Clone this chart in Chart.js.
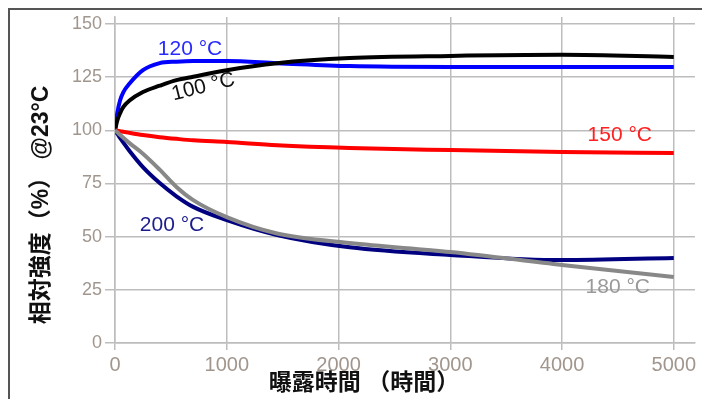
<!DOCTYPE html>
<html>
<head>
<meta charset="utf-8">
<script src="https://cdn.jsdelivr.net/npm/chart.js@4"></script>
<style>
  html, body { margin: 0; padding: 0; background: #fff; }
  #wrap { position: relative; width: 702px; height: 399px; overflow: hidden; }
  #frame {
    position: absolute; left: 8px; top: 8px; right: -4px; bottom: -4px;
    border-left: 2px solid #555; border-top: 2px solid #555;
  }
  #chart { position: absolute; left: 0; top: 0; }
</style>
</head>
<body>
<div id="wrap">
  <div id="frame"></div>
  <canvas id="chart" width="702" height="399"></canvas>
</div>
<script>
// exposure hours
const hours = [0, 20, 45, 75, 130, 250, 400, 550, 700, 1000, 1450, 2100, 3000, 4000, 5000];

// relative strength (%) per temperature
const temp120 = [100, 108, 114, 118, 122, 128.3, 131.6, 132.3, 132.6, 132.6, 131.6, 130.2, 129.8, 129.8, 129.8];
const temp100 = [100, 104.5, 108, 111, 114, 118, 121, 123.6, 125.2, 128.3, 131.6, 134, 135, 135.5, 134.5];
const temp150 = [100, 99.8, 99.6, 99.3, 98.8, 97.8, 96.8, 96, 95.3, 94.5, 93, 91.7, 90.7, 89.8, 89.3];
const temp200 = [100, 98.4, 96.5, 94.2, 90.3, 82.7, 75.2, 69, 64, 57.8, 50.8, 45, 41.4, 39, 40];
const temp180 = [100, 99.1, 97.9, 96.5, 94, 89, 81.5, 73.4, 67.2, 59.2, 51.5, 47, 42.8, 36.7, 31];

const xTicks = [0, 1000, 2000, 3000, 4000, 5000];
const yTicks = [0, 25, 50, 75, 100, 125, 150];

// series labels: text, anchor (hours, %), colour, angle
const seriesLabels = [
  { text: '120 °C', x: 671, y: 138.2, color: '#2a2aff', angle: 0 },
  { text: '100 °C', x: 790, y: 120.4, color: '#111', angle: -14 },
  { text: '150 °C', x: 4517, y: 97.8, color: '#ff2020', angle: 0 },
  { text: '200 °C', x: 510, y: 55.5, color: '#1c1c8c', angle: 0 },
  { text: '180 °C', x: 4499, y: 26.3, color: '#999', angle: 0 }
];

const yTitle = '相対強度（%） @23°C';
const xTitle = '曝露時間 （時間）';

function toPoints(values) {
  return values.map((v, i) => ({ x: hours[i], y: v }));
}

function lineSet(label, values, color) {
  return {
    label: label,
    data: toPoints(values),
    borderColor: color,
    borderWidth: 4,
    pointRadius: 0,
    cubicInterpolationMode: 'monotone',
    fill: false
  };
}

const labelPlugin = {
  id: 'labelPlugin',
  afterDraw(chart) {
    const ctx = chart.ctx;
    const xs = chart.scales.x;
    const ys = chart.scales.y;
    ctx.save();
    ctx.font = '21px "Liberation Sans", Arial, sans-serif';
    ctx.textAlign = 'center';
    ctx.textBaseline = 'middle';
    seriesLabels.forEach(l => {
      ctx.save();
      ctx.translate(xs.getPixelForValue(l.x), ys.getPixelForValue(l.y));
      ctx.rotate(l.angle * Math.PI / 180);
      ctx.fillStyle = l.color;
      ctx.fillText(l.text, 0, 0);
      ctx.restore();
    });

    // axis titles
    ctx.fillStyle = '#111';
    ctx.font = 'bold 23px "Liberation Sans", "Noto Sans CJK JP", sans-serif';
    ctx.fillText(xTitle, 364, 384);

    ctx.save();
    ctx.translate(42, 205);
    ctx.rotate(-Math.PI / 2);
    ctx.font = 'bold 23px "Liberation Sans", "Noto Sans CJK JP", sans-serif';
    ctx.fillText(yTitle, 0, 0);
    ctx.restore();
    ctx.restore();
  }
};

const ctx = document.getElementById('chart').getContext('2d');

new Chart(ctx, {
  type: 'line',
  data: {
    datasets: [
      lineSet('180 °C', temp180, '#888888'),
      lineSet('200 °C', temp200, '#000080'),
      lineSet('150 °C', temp150, '#ff0000'),
      lineSet('100 °C', temp100, '#000000'),
      lineSet('120 °C', temp120, '#0000ff')
    ]
  },
  options: {
    responsive: false,
    animation: false,
    layout: {
      padding: { left: 0, top: 17, right: 7, bottom: 0 }
    },
    plugins: {
      legend: { display: false },
      tooltip: { enabled: false }
    },
    scales: {
      x: {
        type: 'linear',
        min: 0,
        max: 5190,
        afterFit: function (scale) { scale.height = 56; },
        afterBuildTicks: function (scale) {
          scale.ticks = xTicks.map(v => ({ value: v }));
        },
        ticks: {
          color: '#a0968e',
          font: { family: '"Liberation Sans", Arial, sans-serif', size: 20 },
          padding: 3,
          maxRotation: 0,
          autoSkip: false,
          includeBounds: false,
          callback: v => String(v)
        },
        grid: {
          color: '#bdbdbd',
          lineWidth: 1.5,
          tickLength: 7
        },
        border: { color: '#bdbdbd', width: 1.5 }
      },
      y: {
        type: 'linear',
        min: 0,
        max: 153.3,
        afterFit: function (scale) { scale.width = 115; },
        afterBuildTicks: function (scale) {
          scale.ticks = yTicks.map(v => ({ value: v }));
        },
        ticks: {
          color: '#a0968e',
          font: { family: '"Liberation Sans", Arial, sans-serif', size: 18 },
          padding: 3,
          autoSkip: false,
          includeBounds: false,
          callback: v => String(v)
        },
        grid: {
          color: '#bdbdbd',
          lineWidth: 1.5,
          tickLength: 10
        },
        border: { color: '#bdbdbd', width: 1.5 }
      }
    }
  },
  plugins: [labelPlugin]
});
</script>
</body>
</html>
